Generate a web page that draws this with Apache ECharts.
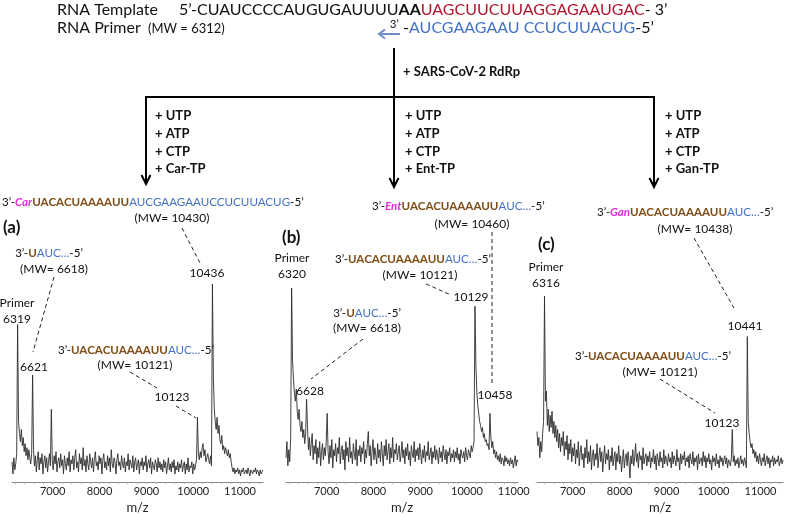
<!DOCTYPE html>
<html>
<head>
<meta charset="utf-8">
<script src="https://cdn.jsdelivr.net/npm/echarts@6/dist/echarts.min.js"></script>
<style>
  body { margin: 0; background: #fff; }
  #chart { width: 789px; height: 515px; }
</style>
</head>
<body>
<div id="chart"></div>
<script>
// m/z grid of each spectrum: first point and step
const startA = 6130, startB = 6130, startC = 6240
const stepMz = 20

// relative intensities (one row = 400 m/z)
const specA = [
  10, 4, 12, 6, 9, 14, 78, 30, 24, 20, 26, 18, 22, 15, 19, 13, 17, 11, 16, 12,
  9, 14, 53, 16, 8, 13, 5, 11, 15, 6, 12, 9, 14, 4, 10, 13, 7, 12, 5, 10,
  14, 8, 36, 11, 6, 13, 9, 15, 5, 10, 12, 7, 14, 8, 11, 4, 13, 9, 6, 12,
  8, 15, 5, 11, 9, 13, 6, 12, 16, 7, 10, 5, 14, 9, 12, 6, 17, 8, 11, 5,
  13, 9, 6, 14, 10, 7, 12, 5, 11, 15, 8, 10, 6, 13, 9, 12, 4, 11, 14, 7,
  10, 6, 13, 8, 12, 5, 16, 9, 7, 12, 10, 4, 11, 14, 8, 10, 6, 13, 9, 7,
  12, 5, 10, 8, 14, 6, 11, 9, 7, 13, 5, 10, 12, 6, 9, 11, 4, 10, 8, 12,
  6, 10, 8, 13, 5, 9, 11, 7, 12, 4, 10, 8, 6, 11, 9, 5, 12, 7, 10, 6,
  9, 5, 11, 7, 10, 4, 8, 12, 6, 9, 5, 10, 7, 11, 4, 8, 6, 10, 5, 9,
  7, 11, 5, 8, 10, 4, 9, 6, 12, 5, 8, 7, 10, 4, 9, 6, 8, 11, 32, 14,
  11, 15, 12, 17, 19, 13, 16, 10, 12, 14, 11, 9, 13, 8, 98, 52, 36, 30, 26, 32,
  24, 28, 21, 19, 23, 16, 18, 14, 17, 15, 13, 16, 12, 14, 10, 7, 5, 7, 4, 6,
  5, 7, 4, 6, 3, 6, 5, 7, 4, 5, 6, 4, 7, 5, 3, 6, 5, 4, 6, 5,
  7, 4, 6, 5, 3, 6, 4, 5, 6
]
const specB = [
  12, 20, 8, 16, 10, 22, 96, 60, 51, 44, 40, 46, 35, 31, 36, 28, 25, 30, 22, 26,
  19, 24, 41, 27, 16, 22, 13, 19, 24, 11, 18, 14, 21, 9, 17, 12, 20, 8, 15, 19,
  11, 17, 13, 20, 34, 15, 9, 18, 12, 21, 7, 16, 13, 19, 10, 17, 14, 22, 9, 15,
  18, 11, 16, 6, 20, 13, 17, 10, 22, 12, 15, 9, 19, 14, 11, 21, 8, 16, 13, 18,
  10, 17, 14, 20, 9, 16, 12, 19, 25, 13, 18, 8, 15, 21, 11, 17, 13, 9, 19, 12,
  16, 10, 20, 14, 8, 18, 13, 21, 11, 15, 19, 9, 17, 12, 22, 10, 16, 14, 19, 11,
  15, 18, 10, 14, 20, 12, 16, 9, 17, 13, 19, 11, 15, 8, 18, 14, 12, 20, 10, 16,
  13, 17, 11, 19, 14, 9, 16, 12, 18, 10, 15, 13, 20, 11, 14, 17, 9, 15, 12, 18,
  11, 16, 13, 9, 17, 12, 15, 10, 18, 14, 11, 16, 9, 15, 13, 17, 10, 14, 12, 16,
  10, 15, 12, 17, 11, 14, 9, 16, 13, 12, 15, 10, 17, 13, 11, 16, 14, 12, 18, 15,
  17, 20, 87, 58, 45, 38, 34, 30, 28, 25, 27, 22, 24, 20, 21, 18, 19, 16, 34, 22,
  17, 20, 14, 16, 12, 15, 11, 13, 10, 14, 9, 12, 11, 8, 13, 10, 12, 9, 11, 8,
  12, 9, 11, 7, 10, 13, 8, 11, 10
]
const specC = [
  25, 18, 22, 12, 20, 15, 24, 30, 92, 40, 45, 28, 36, 25, 33, 27, 35, 24, 30, 22,
  28, 20, 26, 17, 24, 15, 22, 18, 25, 13, 20, 16, 23, 11, 19, 14, 21, 10, 17, 13,
  19, 9, 16, 12, 20, 8, 15, 18, 11, 14, 7, 17, 12, 21, 9, 15, 10, 18, 6, 13,
  16, 8, 14, 11, 19, 7, 13, 17, 10, 15, 5, 12, 18, 9, 14, 11, 16, 6, 13, 10,
  17, 8, 12, 15, 6, 14, 10, 18, 9, 13, 5, 11, 16, 7, 12, 14, 8, 15, 10, 2,
  13, 9, 16, 8, 12, 19, 10, 14, 7, 15, 11, 13, 6, 17, 9, 12, 14, 8, 13, 10,
  15, 7, 12, 10, 16, 9, 13, 6, 14, 11, 8, 15, 10, 12, 7, 16, 9, 13, 11, 8,
  14, 10, 12, 7, 15, 9, 13, 11, 8, 16, 10, 12, 6, 14, 9, 13, 11, 15, 8, 12,
  10, 13, 7, 14, 11, 9, 15, 8, 12, 10, 13, 6, 14, 9, 11, 12, 8, 15, 10, 13,
  7, 12, 10, 14, 9, 11, 6, 13, 10, 12, 8, 14, 9, 11, 7, 13, 10, 12, 8, 11,
  13, 9, 12, 7, 11, 10, 8, 12, 26, 10, 13, 8, 11, 9, 12, 7, 10, 13, 9, 11,
  8, 12, 10, 7, 72, 30, 24, 20, 17, 19, 14, 16, 12, 15, 10, 13, 9, 14, 11, 8,
  12, 10, 14, 8, 11, 13, 9, 12, 7, 11, 10, 13, 8, 12, 9, 11, 10, 13, 8, 10,
  12, 9, 11
]

const tickLabels = [7000, 8000, 9000, 10000, 11000]
const axisRanges = [[6130, 11490], [6130, 11090], [6240, 11480]]

const FONT = 'Lato, "Liberation Sans", sans-serif'
const BLUE = '#4472c4'
const BROWN = '#7f4e17'
const MAGENTA = '#e02ee0'
const RED = '#b3152c'

const rich = {
  k: { fill: '#111', fontFamily: FONT },
  kb: { fill: '#111', fontFamily: FONT, fontWeight: 'bold' },
  r: { fill: RED, fontFamily: FONT },
  b: { fill: BLUE, fontFamily: FONT },
  br: { fill: BROWN, fontFamily: FONT, fontWeight: 'bold' },
  m: { fill: MAGENTA, fontFamily: FONT, fontWeight: 'bold', fontStyle: 'italic' }
}

function richFor(size) {
  const out = {}
  Object.keys(rich).forEach(k => { out[k] = Object.assign({ fontSize: size }, rich[k]) })
  return out
}

function txt(x, y, text, opts) {
  opts = opts || {}
  const size = opts.size || 12
  return {
    type: 'text', x, y, z: 100,
    style: {
      text,
      rich: richFor(size),
      fontSize: size,
      fontFamily: FONT,
      fontWeight: opts.bold ? 'bold' : 'normal',
      fill: opts.color || '#111',
      align: opts.align || 'center',
      verticalAlign: 'middle'
    }
  }
}

function dash(x1, y1, x2, y2) {
  return {
    type: 'line', z: 100,
    shape: { x1, y1, x2, y2 },
    style: { stroke: '#222', lineWidth: 1, lineDash: [4, 3] }
  }
}

function line(x1, y1, x2, y2, color) {
  return {
    type: 'line', z: 100,
    shape: { x1, y1, x2, y2 },
    style: { stroke: color || '#000', lineWidth: 2 }
  }
}

function downArrow(x, y1, tip) {
  return [
    line(x, y1, x, tip),
    {
      type: 'polyline', z: 100,
      shape: { points: [[x - 4.5, tip - 9], [x, tip], [x + 4.5, tip - 9]] },
      style: { stroke: '#000', lineWidth: 2, fill: null }
    }
  ]
}

const SEQ = 11.6
const seqShort = '{k|3’-}{br|UACACUAAAAUU}{b|AUC…}{k|-5’}'
const seqU = '{k|3’-}{br|U}{b|AUC…}{k|-5’}'

const graphics = [
  // template / primer header
  txt(57, 10, 'RNA Template', { size: 16, align: 'left' }),
  txt(179, 10, '{k|5’-CUAUCCCCAUGUGAUUUU}{kb|AA}{r|UAGCUUCUUAGGAGAAUGAC}{k|- 3’}', { size: 16, align: 'left' }),
  txt(57, 28, 'RNA Primer', { size: 16, align: 'left' }),
  txt(148, 29, '(MW = 6312)', { size: 13, align: 'left' }),
  txt(390, 24, '3’', { size: 11, align: 'left' }),
  txt(399, 28, '{k| -}{b|AUCGAAGAAU CCUCUUACUG}{k|-5’}', { size: 16, align: 'left' }),
  line(380, 34, 400, 34, '#6d8ec9'),
  {
    type: 'polyline', z: 100,
    shape: { points: [[385, 29.5], [379, 34], [385, 38.5]] },
    style: { stroke: '#6d8ec9', lineWidth: 2, fill: null }
  },
  // reaction tree
  line(394, 48, 394, 97),
  txt(403, 72, '+ SARS-CoV-2 RdRp', { size: 13, bold: true, align: 'left' }),
  line(145, 97, 655, 97),
  ...downArrow(146, 97, 184),
  ...downArrow(394, 97, 187),
  ...downArrow(654, 97, 187),
  txt(155, 116, '+ UTP', { size: 13, bold: true, align: 'left' }),
  txt(155, 134, '+ ATP', { size: 13, bold: true, align: 'left' }),
  txt(155, 151.5, '+ CTP', { size: 13, bold: true, align: 'left' }),
  txt(155, 169, '+ Car-TP', { size: 13, bold: true, align: 'left' }),
  txt(405, 116, '+ UTP', { size: 13, bold: true, align: 'left' }),
  txt(405, 134, '+ ATP', { size: 13, bold: true, align: 'left' }),
  txt(405, 151.5, '+ CTP', { size: 13, bold: true, align: 'left' }),
  txt(405, 169, '+ Ent-TP', { size: 13, bold: true, align: 'left' }),
  txt(665, 116, '+ UTP', { size: 13, bold: true, align: 'left' }),
  txt(665, 134, '+ ATP', { size: 13, bold: true, align: 'left' }),
  txt(665, 151.5, '+ CTP', { size: 13, bold: true, align: 'left' }),
  txt(665, 169, '+ Gan-TP', { size: 13, bold: true, align: 'left' }),

  // panel (a)
  txt(2, 202, '{k|3’-}{m|Car}{br|UACACUAAAAUU}{b|AUCGAAGAAUCCUCUUACUG}{k|-5’}', { size: SEQ, align: 'left' }),
  txt(172, 218, '(MW= 10430)'),
  txt(3, 228, '(a)', { size: 17, bold: true, align: 'left' }),
  txt(49, 253, seqU, { size: SEQ }),
  txt(54, 269, '(MW= 6618)'),
  txt(17, 303, 'Primer'),
  txt(17, 319, '6319'),
  txt(34, 367, '6621'),
  txt(207, 273, '10436'),
  txt(136, 350, seqShort, { size: SEQ }),
  txt(135, 365, '(MW= 10121)'),
  txt(172, 397, '10123'),
  dash(54, 277, 33, 352),
  dash(182, 228, 200, 263),
  dash(130, 372, 157, 388),
  dash(176, 406, 196, 418),

  // panel (b)
  txt(372, 206, '{k|3’-}{m|Ent}{br|UACACUAAAAUU}{b|AUC…}{k|-5’}', { size: SEQ, align: 'left' }),
  txt(472, 224, '(MW= 10460)'),
  txt(282, 238, '(b)', { size: 17, bold: true, align: 'left' }),
  txt(292, 258, 'Primer'),
  txt(292, 274, '6320'),
  txt(413, 259, seqShort, { size: SEQ }),
  txt(420, 275, '(MW= 10121)'),
  txt(471, 297, '10129'),
  txt(495, 395, '10458'),
  txt(367, 313, seqU, { size: SEQ }),
  txt(367, 328, '(MW= 6618)'),
  txt(310, 391, '6628'),
  dash(426, 284, 451, 295),
  dash(492, 232, 492, 383),
  dash(363, 339, 311, 379),

  // panel (c)
  txt(597, 212, '{k|3’-}{m|Gan}{br|UACACUAAAAUU}{b|AUC…}{k|-5’}', { size: SEQ, align: 'left' }),
  txt(695, 229, '(MW= 10438)'),
  txt(538, 245, '(c)', { size: 17, bold: true, align: 'left' }),
  txt(546, 267, 'Primer'),
  txt(546, 283, '6316'),
  txt(745, 326, '10441'),
  txt(653, 356, seqShort, { size: SEQ }),
  txt(660, 372, '(MW= 10121)'),
  txt(722, 423, '10123'),
  dash(694, 238, 734, 308),
  dash(660, 379, 715, 413)
]

// small ticks every 200 along each axis
function minorTicks(range) {
  const out = []
  for (let v = Math.ceil(range[0] / 200) * 200; v <= range[1]; v += 200) out.push(v)
  return out
}

const grids = [
  { left: 12, width: 251, top: 280, height: 207 },
  { left: 286, width: 232, top: 280, height: 207 },
  { left: 537, width: 246, top: 280, height: 207 }
]

const xAxes = axisRanges.map((r, i) => ({
  type: 'value', gridIndex: i, min: r[0], max: r[1],
  splitLine: { show: false },
  axisLine: { lineStyle: { color: '#8a8a8a', width: 1 } },
  axisTick: { show: true, customValues: minorTicks(r), length: 2, lineStyle: { color: '#aaa' } },
  axisLabel: {
    customValues: tickLabels, fontSize: 11, color: '#222', margin: 4, fontFamily: FONT,
    formatter: v => String(v)
  },
  name: 'm/z', nameLocation: 'middle', nameGap: 19,
  nameTextStyle: { fontSize: 13, color: '#222', fontFamily: FONT }
}))

const yAxes = grids.map((g, i) => ({ type: 'value', gridIndex: i, min: 0, max: 100, show: false }))

function toPoints(spec, start) {
  return spec.map((v, i) => [start + i * stepMz, v])
}

const series = [
  toPoints(specA, startA), toPoints(specB, startB), toPoints(specC, startC)
].map((d, i) => ({
  type: 'line', xAxisIndex: i, yAxisIndex: i, data: d,
  symbol: 'none', lineStyle: { color: '#2c2c2c', width: 0.9 }
}))

const myChart = echarts.init(document.getElementById('chart'))
myChart.setOption({
  animation: false,
  backgroundColor: '#fff',
  grid: grids,
  xAxis: xAxes,
  yAxis: yAxes,
  series,
  graphic: { elements: graphics }
})
</script>
</body>
</html>
